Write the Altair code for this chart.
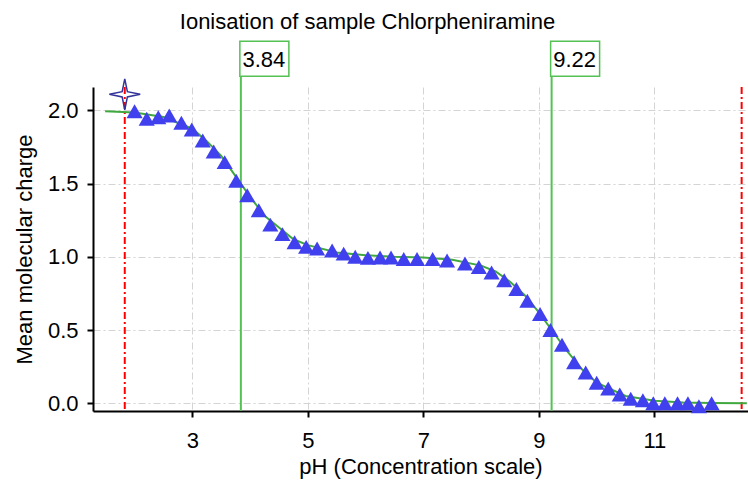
import altair as alt
import pandas as pd

# measured data (triangles)
ph_meas = [2.00, 2.21, 2.41, 2.60, 2.81, 2.99, 3.18, 3.37, 3.56, 3.76, 3.95, 4.15,
           4.35, 4.56, 4.77, 4.97, 5.16, 5.42, 5.62, 5.82, 6.04, 6.25, 6.44, 6.66,
           6.89, 7.16, 7.41, 7.72, 7.96, 8.18, 8.40, 8.61, 8.80, 9.02, 9.20, 9.40,
           9.61, 9.81, 10.00, 10.20, 10.40, 10.59, 10.80, 10.98, 11.18, 11.40, 11.58,
           11.77, 11.99]
charge_meas = [1.995, 1.943, 1.954, 1.966, 1.916, 1.870, 1.795, 1.720, 1.647, 1.520, 1.420, 1.318,
               1.220, 1.155, 1.100, 1.068, 1.057, 1.043, 1.022, 1.000, 0.993, 0.995, 0.995, 0.985,
               0.985, 0.985, 0.975, 0.955, 0.930, 0.893, 0.840, 0.780, 0.700, 0.610, 0.500, 0.400,
               0.280, 0.210, 0.140, 0.100, 0.060, 0.030, 0.020, 0.000, 0.000, 0.000, 0.000,
               -0.020, 0.000]

# fitted curve (green line)
ph_fit = [1.49, 2.0, 2.5, 3.0, 3.25, 3.5, 3.84, 4.0, 4.25, 4.5, 4.75, 5.0, 5.5, 6.0, 6.5, 7.0,
          7.5, 8.0, 8.25, 8.5, 8.75, 9.0, 9.22, 9.5, 9.75, 10.0, 10.5, 11.0, 11.5, 12.0, 12.6]
charge_fit = [1.995, 1.985, 1.955, 1.875, 1.79, 1.69, 1.50, 1.41, 1.28, 1.20, 1.12, 1.08, 1.03,
              1.01, 1.00, 0.995, 0.98, 0.94, 0.90, 0.83, 0.74, 0.62, 0.50, 0.35, 0.23, 0.14,
              0.05, 0.017, 0.005, 0.002, 0.0]

# pKa markers
pka_values = [3.84, 9.22]
pka_labels = ["3.84", "9.22"]

# range limits (red dash-dot lines)
range_limits = [1.83, 12.51]

# star marker
star_ph = [1.83]
star_charge = [2.11]

x_ticks = [3, 5, 7, 9, 11]
y_ticks = [0.0, 0.5, 1.0, 1.5, 2.0]
title_text = "Ionisation of sample Chlorpheniramine"

W, H = 655, 324
FONT = "Liberation Sans"

meas_df = pd.DataFrame({"pH": ph_meas, "charge": charge_meas})
fit_df = pd.DataFrame({"pH": ph_fit, "charge": charge_fit})
pka_df = pd.DataFrame({"pka": pka_values, "label": pka_labels})
lim_df = pd.DataFrame({"lim": range_limits})
star_df = pd.DataFrame({"pH": star_ph, "charge": star_charge})

xscale = alt.Scale(domain=[1.28, 12.62], nice=False, zero=False)
yscale = alt.Scale(domain=[-0.053, 2.16], nice=False, zero=False)

xaxis = alt.Axis(values=x_ticks, title="pH (Concentration scale)", format="d",
                 labelPadding=13, titlePadding=5)
yaxis = alt.Axis(values=y_ticks, title="Mean molecular charge", format=".1f",
                 labelPadding=9, titlePadding=11)

base_x = alt.X("pH:Q", scale=xscale, axis=xaxis)
base_y = alt.Y("charge:Q", scale=yscale, axis=yaxis)

red_lines = alt.Chart(lim_df).mark_rule(
    color="#ff0000", strokeWidth=2, strokeDash=[7, 3, 2, 3], clip=False
).encode(
    x=alt.X("lim:Q", scale=xscale, axis=xaxis),
    y=alt.value(0), y2=alt.value(H)
)

green_lines = alt.Chart(pka_df).mark_rule(
    color="#55c155", strokeWidth=2, clip=False
).encode(
    x=alt.X("pka:Q", scale=xscale, axis=xaxis),
    y=alt.value(-10.7), y2=alt.value(H)
)

fit_line = alt.Chart(fit_df).mark_line(
    color="#3fa83f", strokeWidth=2
).encode(x=base_x, y=base_y)

triangles = alt.Chart(meas_df).mark_point(
    shape="triangle-up", filled=True, color="#4040ee", size=260, opacity=1
).encode(x=base_x, y=base_y)

star = alt.Chart(star_df).mark_point(
    shape="M0,-1L0.17,-0.17L1,0L0.17,0.17L0,1L-0.17,0.17L-1,0L-0.17,-0.17Z",
    filled=False, stroke="#33339a", strokeWidth=1.5, size=950, opacity=1, clip=False
).encode(x=base_x, y=base_y)

boxes = alt.Chart(pka_df).mark_rect(
    fill="white", stroke="#55c155", strokeWidth=1.5, xOffset=-1, x2Offset=48, clip=False
).encode(
    x=alt.X("pka:Q", scale=xscale, axis=xaxis),
    x2="pka:Q",
    y=alt.value(-45.7), y2=alt.value(-10.7)
)

box_text = alt.Chart(pka_df).mark_text(
    font=FONT, fontSize=22, color="black", align="center", baseline="middle", dx=23
).encode(
    x=alt.X("pka:Q", scale=xscale, axis=xaxis),
    y=alt.value(-27),
    text="label:N"
)

title = alt.Chart(pd.DataFrame({"t": [title_text]})).mark_text(
    font=FONT, fontSize=22, color="black", align="center", baseline="middle"
).encode(
    x=alt.value(274.5), y=alt.value(-65), text="t:N"
)

chart = alt.layer(
    red_lines, green_lines, fit_line, triangles, star, boxes, box_text, title
).properties(
    width=W, height=H,
    autosize=alt.AutoSizeParams(type="none"),
    padding={"left": 93, "top": 87, "right": 0, "bottom": 78}
).configure_view(
    stroke=None
).configure_axis(
    domainColor="black", domainWidth=2, tickColor="black", tickWidth=2, tickSize=6,
    labelFont=FONT, labelFontSize=22, labelColor="black",
    titleFont=FONT, titleFontSize=22, titleColor="black", titleFontWeight="normal",
    gridColor="#d4d4d4", gridWidth=1, gridDash=[7, 3, 2, 3]
)

chart.save("out.html", embed_options={"renderer": "svg", "actions": False})
